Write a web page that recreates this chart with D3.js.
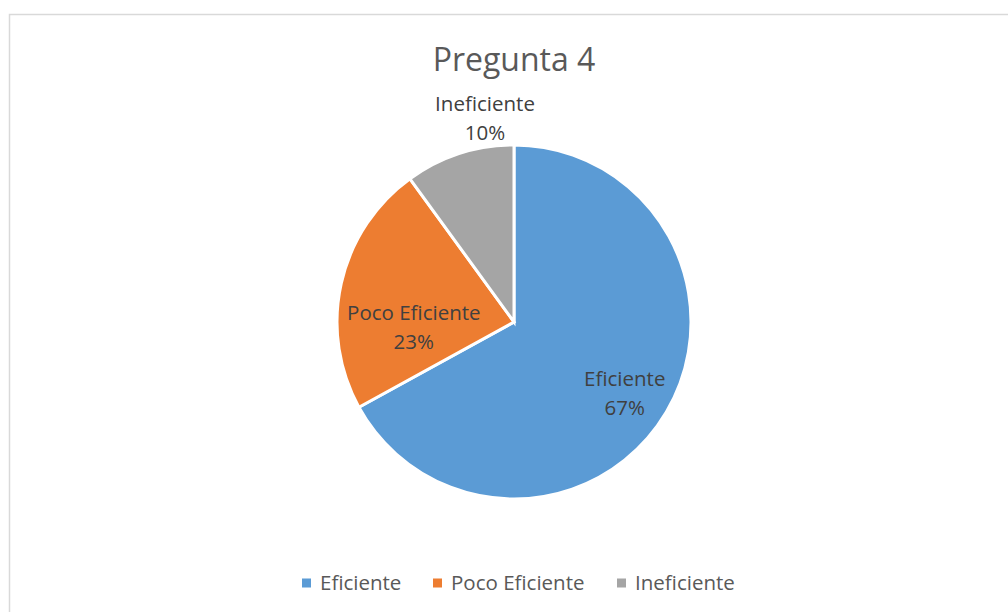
<!DOCTYPE html>
<html>
<head>
<meta charset="utf-8">
<script src="https://cdn.jsdelivr.net/npm/d3@7"></script>
<style>
  body { margin: 0; background: #fff; }
  text { font-family: "Open Sans", "Noto Sans", sans-serif; }
</style>
</head>
<body>
<div id="chart"></div>
<script>
// data
var categories = ["Eficiente", "Poco Eficiente", "Ineficiente"];
var values = [67, 23, 10];
var colors = ["#5B9BD5", "#ED7D31", "#A5A5A5"];

var width = 1008, height = 612;
var cx = 514, cy = 322, radius = 177;

var svg = d3.select("#chart").append("svg")
  .attr("width", width)
  .attr("height", height);

// chart frame
svg.append("rect")
  .attr("x", 9.5).attr("y", 14.5)
  .attr("width", 1010).attr("height", 610)
  .style("fill", "#fff")
  .style("stroke", "#d9d9d9")
  .style("stroke-width", 1.5);

svg.append("text")
  .attr("x", cx).attr("y", 71)
  .attr("text-anchor", "middle")
  .style("font-size", "32px")
  .style("fill", "#595959")
  .text("Pregunta 4");

var data = categories.map(function(c, i) { return { name: c, value: values[i], color: colors[i] }; });

var pie = d3.pie().sort(null).value(function(d) { return d.value; });
var arcs = pie(data);
var arc = d3.arc().innerRadius(0).outerRadius(radius);

var g = svg.append("g").attr("transform", "translate(" + cx + "," + cy + ")");

g.selectAll(".slice")
  .data(arcs)
  .enter().append("path")
  .attr("class", "slice")
  .attr("d", arc)
  .style("fill", function(d) { return d.data.color; })
  .style("stroke", "#fff")
  .style("stroke-width", 3);

// label placement (like excel best fit): radius factor + small nudge
var labelR = [0.74, 0.58, 1.17];
var nudge = [[-2, 4], [0, 27], [35, -7]];
function labelPos(d, i) {
  var c = d3.arc().innerRadius(radius * labelR[i]).outerRadius(radius * labelR[i]).centroid(d);
  return [c[0] + nudge[i][0], c[1] + nudge[i][1]];
}

var labels = g.selectAll(".lbl")
  .data(arcs)
  .enter().append("text")
  .attr("class", "lbl")
  .attr("text-anchor", "middle")
  .style("font-size", "20.5px")
  .style("fill", "#404040")
  .attr("transform", function(d, i) {
    var p = labelPos(d, i);
    return "translate(" + p[0] + "," + p[1] + ")";
  });

labels.append("tspan")
  .attr("x", 0).attr("y", -7)
  .text(function(d) { return d.data.name; });
labels.append("tspan")
  .attr("x", 0).attr("y", 22)
  .text(function(d) { return d.data.value + "%"; });

// legend
var legendX = [302, 433, 617];
var legend = svg.selectAll(".legend")
  .data(data)
  .enter().append("g")
  .attr("class", "legend")
  .attr("transform", function(d, i) { return "translate(" + legendX[i] + ",583)"; });

legend.append("rect")
  .attr("x", 0).attr("y", -4.5)
  .attr("width", 9).attr("height", 9)
  .style("fill", function(d) { return d.color; });

legend.append("text")
  .attr("x", 18).attr("y", 0)
  .attr("dy", "0.35em")
  .style("font-size", "20.5px")
  .style("fill", "#595959")
  .text(function(d) { return d.name; });
</script>
</body>
</html>
